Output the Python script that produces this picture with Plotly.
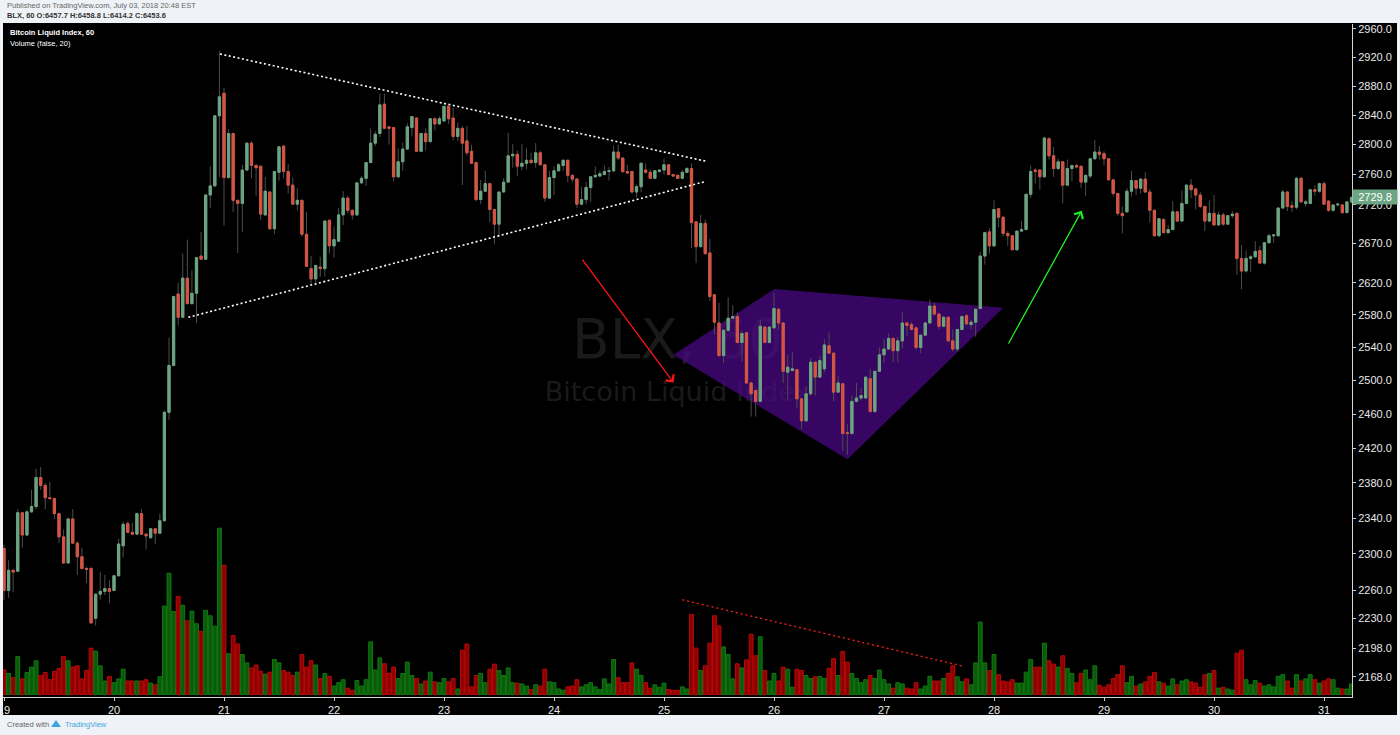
import math
import pandas as pd
import plotly.graph_objects as go

# ---------------- data (BLX, 60-minute candles, from 2018-07-19 00:00) ----------------
START = "2018-07-19 00:00"

opens = [
    2306, 2260, 2282, 2281, 2346, 2321, 2347, 2353, 2386, 2377,
    2363, 2362, 2345, 2319, 2290, 2339, 2312, 2297, 2284, 2284,
    2230, 2256, 2259, 2262, 2260, 2276, 2309, 2334, 2324, 2322,
    2345, 2322, 2318, 2328, 2323, 2337, 2462, 2518, 2606, 2577,
    2626, 2594, 2607, 2654, 2650, 2733, 2745, 2839, 2870, 2756,
    2815, 2726, 2722, 2766, 2802, 2772, 2771, 2707, 2737, 2689,
    2763, 2798, 2764, 2746, 2721, 2726, 2682, 2638, 2625, 2640,
    2638, 2700, 2667, 2673, 2707, 2729, 2713, 2707, 2749, 2755,
    2776, 2802, 2815, 2855, 2824, 2823, 2757, 2777, 2794, 2823,
    2836, 2791, 2815, 2804, 2835, 2828, 2832, 2852, 2836, 2811,
    2822, 2805, 2791, 2776, 2727, 2738, 2748, 2714, 2695, 2737,
    2750, 2785, 2787, 2771, 2775, 2779, 2776, 2789, 2773, 2729,
    2756, 2765, 2772, 2779, 2759, 2754, 2721, 2727, 2743, 2757,
    2758, 2760, 2764, 2765, 2790, 2782, 2764, 2764, 2737, 2744,
    2766, 2763, 2755, 2764, 2766, 2773, 2760, 2759, 2755, 2763,
    2768, 2698, 2666, 2696, 2658, 2605, 2570, 2530, 2561, 2576,
    2578, 2546, 2558, 2497, 2488, 2475, 2565, 2546, 2564, 2587,
    2570, 2510, 2512, 2513, 2478, 2452, 2484, 2522, 2504, 2514,
    2542, 2533, 2486, 2496, 2438, 2437, 2475, 2479, 2479, 2502,
    2463, 2511, 2531, 2538, 2551, 2536, 2548, 2570, 2568, 2564,
    2540, 2555, 2570, 2591, 2581, 2566, 2577, 2548, 2538, 2562,
    2579, 2568, 2571, 2588, 2654, 2685, 2667, 2715, 2704, 2683,
    2680, 2662, 2686, 2688, 2734, 2766, 2766, 2757, 2808, 2785,
    2768, 2777, 2746, 2768, 2772, 2771, 2750, 2758, 2781, 2790,
    2788, 2781, 2753, 2735, 2709, 2711, 2738, 2752, 2742, 2754,
    2737, 2713, 2680, 2701, 2684, 2688, 2711, 2699, 2722, 2746,
    2741, 2733, 2718, 2699, 2709, 2694, 2707, 2695, 2706, 2709,
    2651, 2635, 2651, 2653, 2661, 2645, 2671, 2680, 2680, 2716,
    2737, 2719, 2717, 2755, 2722, 2722, 2740, 2738, 2748, 2725,
    2713, 2720, 2720, 2710, 2724,
]

highs = [
    2310, 2293, 2283, 2350, 2347, 2349, 2372, 2396, 2398, 2380,
    2381, 2363, 2346, 2327, 2340, 2350, 2314, 2307, 2286, 2286,
    2256, 2280, 2277, 2271, 2277, 2317, 2336, 2336, 2335, 2346,
    2350, 2323, 2329, 2329, 2345, 2464, 2552, 2603, 2620, 2657,
    2675, 2636, 2653, 2685, 2734, 2771, 2840, 2929, 2877, 2821,
    2816, 2727, 2773, 2802, 2804, 2774, 2772, 2757, 2738, 2764,
    2798, 2799, 2774, 2756, 2742, 2727, 2711, 2654, 2643, 2653,
    2700, 2701, 2692, 2716, 2738, 2732, 2714, 2750, 2758, 2776,
    2822, 2818, 2869, 2869, 2825, 2824, 2795, 2803, 2829, 2838,
    2837, 2816, 2822, 2836, 2837, 2838, 2852, 2853, 2850, 2830,
    2825, 2825, 2800, 2777, 2753, 2765, 2749, 2715, 2737, 2755,
    2816, 2801, 2792, 2801, 2795, 2789, 2802, 2792, 2774, 2765,
    2771, 2775, 2780, 2780, 2760, 2755, 2744, 2750, 2758, 2771,
    2765, 2772, 2770, 2799, 2800, 2783, 2773, 2765, 2747, 2776,
    2775, 2767, 2766, 2767, 2781, 2774, 2761, 2760, 2766, 2770,
    2775, 2699, 2707, 2701, 2676, 2606, 2595, 2562, 2602, 2592,
    2583, 2561, 2559, 2498, 2489, 2574, 2566, 2565, 2608, 2588,
    2571, 2531, 2534, 2514, 2479, 2492, 2527, 2523, 2530, 2550,
    2558, 2534, 2506, 2497, 2448, 2482, 2497, 2491, 2504, 2514,
    2511, 2540, 2550, 2557, 2552, 2553, 2583, 2571, 2571, 2565,
    2555, 2571, 2599, 2595, 2582, 2579, 2578, 2562, 2562, 2579,
    2581, 2574, 2588, 2659, 2684, 2690, 2726, 2716, 2705, 2686,
    2681, 2686, 2699, 2734, 2772, 2768, 2767, 2810, 2810, 2797,
    2781, 2778, 2780, 2773, 2774, 2772, 2759, 2781, 2806, 2798,
    2791, 2782, 2754, 2736, 2718, 2742, 2765, 2753, 2755, 2763,
    2741, 2714, 2703, 2703, 2694, 2725, 2712, 2739, 2747, 2754,
    2742, 2737, 2719, 2726, 2733, 2711, 2710, 2707, 2712, 2710,
    2668, 2661, 2655, 2673, 2667, 2672, 2683, 2682, 2716, 2740,
    2738, 2725, 2757, 2757, 2727, 2741, 2746, 2749, 2751, 2726,
    2721, 2723, 2721, 2725, 2731,
]

lows = [
    2250, 2252, 2258, 2280, 2307, 2320, 2346, 2350, 2372, 2350,
    2361, 2339, 2312, 2289, 2289, 2311, 2277, 2283, 2268, 2225,
    2222, 2250, 2255, 2246, 2259, 2275, 2296, 2323, 2321, 2321,
    2321, 2305, 2317, 2311, 2322, 2336, 2453, 2517, 2567, 2576,
    2593, 2593, 2570, 2649, 2649, 2716, 2744, 2757, 2693, 2755,
    2711, 2658, 2685, 2765, 2755, 2732, 2700, 2706, 2688, 2682,
    2752, 2755, 2735, 2720, 2713, 2679, 2640, 2619, 2617, 2628,
    2628, 2657, 2652, 2672, 2694, 2709, 2701, 2706, 2748, 2745,
    2775, 2798, 2810, 2821, 2800, 2751, 2756, 2765, 2793, 2811,
    2790, 2790, 2792, 2803, 2819, 2827, 2831, 2828, 2806, 2805,
    2746, 2785, 2774, 2725, 2721, 2737, 2698, 2669, 2679, 2736,
    2749, 2769, 2758, 2766, 2767, 2774, 2769, 2772, 2724, 2728,
    2733, 2764, 2765, 2750, 2750, 2716, 2720, 2721, 2724, 2756,
    2757, 2759, 2752, 2763, 2779, 2762, 2761, 2735, 2730, 2737,
    2761, 2754, 2754, 2763, 2760, 2759, 2757, 2754, 2754, 2762,
    2664, 2645, 2665, 2656, 2597, 2556, 2529, 2521, 2559, 2575,
    2545, 2523, 2496, 2457, 2457, 2474, 2545, 2545, 2563, 2562,
    2497, 2477, 2511, 2467, 2442, 2451, 2482, 2482, 2503, 2510,
    2532, 2475, 2485, 2417, 2412, 2436, 2474, 2476, 2478, 2462,
    2461, 2510, 2521, 2537, 2522, 2522, 2539, 2554, 2561, 2537,
    2533, 2554, 2569, 2579, 2562, 2565, 2547, 2535, 2535, 2561,
    2567, 2562, 2553, 2587, 2643, 2657, 2666, 2691, 2679, 2667,
    2662, 2661, 2685, 2687, 2729, 2748, 2740, 2756, 2780, 2757,
    2766, 2722, 2745, 2751, 2768, 2742, 2732, 2755, 2780, 2780,
    2772, 2753, 2731, 2706, 2683, 2710, 2731, 2733, 2735, 2736,
    2697, 2679, 2679, 2683, 2683, 2687, 2698, 2698, 2721, 2729,
    2714, 2716, 2686, 2698, 2693, 2693, 2693, 2694, 2703, 2630,
    2612, 2633, 2634, 2652, 2644, 2643, 2670, 2671, 2679, 2715,
    2712, 2711, 2714, 2723, 2718, 2721, 2732, 2736, 2720, 2711,
    2711, 2718, 2708, 2709, 2722,
]

closes = [
    2260, 2282, 2280, 2346, 2321, 2347, 2353, 2386, 2377, 2363,
    2362, 2345, 2319, 2290, 2339, 2312, 2297, 2284, 2283, 2225,
    2256, 2259, 2262, 2259, 2276, 2311, 2333, 2324, 2322, 2345,
    2322, 2320, 2328, 2323, 2337, 2462, 2518, 2603, 2577, 2626,
    2594, 2607, 2652, 2650, 2733, 2745, 2839, 2865, 2756, 2815,
    2726, 2722, 2766, 2802, 2772, 2769, 2708, 2738, 2689, 2764,
    2797, 2764, 2746, 2721, 2726, 2682, 2641, 2625, 2642, 2638,
    2699, 2667, 2675, 2707, 2729, 2713, 2707, 2749, 2755, 2776,
    2802, 2814, 2854, 2822, 2822, 2757, 2777, 2794, 2824, 2838,
    2791, 2815, 2804, 2835, 2828, 2835, 2852, 2835, 2811, 2822,
    2802, 2789, 2775, 2727, 2738, 2748, 2714, 2695, 2737, 2750,
    2785, 2787, 2771, 2775, 2779, 2776, 2789, 2773, 2729, 2756,
    2765, 2773, 2779, 2759, 2754, 2721, 2727, 2743, 2757, 2759,
    2761, 2764, 2765, 2790, 2782, 2764, 2762, 2737, 2744, 2775,
    2763, 2755, 2765, 2766, 2773, 2760, 2758, 2755, 2763, 2768,
    2697, 2666, 2696, 2657, 2603, 2571, 2530, 2561, 2576, 2578,
    2546, 2557, 2497, 2484, 2475, 2566, 2546, 2565, 2588, 2570,
    2511, 2516, 2514, 2478, 2452, 2484, 2522, 2504, 2524, 2543,
    2533, 2486, 2497, 2437, 2437, 2475, 2479, 2482, 2504, 2463,
    2511, 2531, 2538, 2551, 2536, 2548, 2570, 2567, 2562, 2540,
    2555, 2570, 2591, 2581, 2566, 2577, 2548, 2538, 2562, 2578,
    2569, 2571, 2587, 2654, 2684, 2667, 2714, 2704, 2683, 2680,
    2662, 2686, 2688, 2734, 2764, 2764, 2757, 2809, 2785, 2768,
    2777, 2746, 2768, 2772, 2770, 2750, 2759, 2781, 2790, 2787,
    2781, 2753, 2735, 2709, 2706, 2738, 2752, 2742, 2754, 2737,
    2713, 2680, 2702, 2684, 2688, 2711, 2699, 2722, 2746, 2740,
    2733, 2718, 2699, 2709, 2694, 2707, 2695, 2706, 2708, 2651,
    2635, 2651, 2653, 2660, 2645, 2671, 2680, 2681, 2716, 2737,
    2718, 2717, 2755, 2724, 2724, 2740, 2738, 2748, 2721, 2713,
    2720, 2721, 2710, 2724, 2729.8,
]

volumes = [
    58, 50, 40, 90, 37, 52, 65, 80, 45, 52,
    35, 55, 62, 90, 80, 65, 68, 37, 57, 110,
    103, 68, 32, 43, 28, 37, 60, 32, 32, 32,
    32, 35, 27, 23, 42, 210, 288, 197, 233, 212,
    175, 198, 168, 150, 200, 187, 162, 395, 307, 97,
    140, 120, 95, 75, 63, 70, 55, 48, 53, 83,
    75, 57, 53, 45, 53, 95, 65, 80, 70, 38,
    50, 43, 20, 28, 35, 15, 10, 33, 20, 35,
    125, 58, 87, 73, 50, 65, 38, 50, 77, 45,
    38, 25, 32, 53, 30, 28, 38, 30, 38, 13,
    105, 120, 18, 45, 50, 28, 60, 72, 57, 45,
    63, 28, 27, 25, 20, 12, 23, 20, 60, 30,
    28, 13, 10, 18, 20, 35, 18, 23, 28, 18,
    12, 37, 25, 83, 40, 28, 28, 75, 60, 45,
    28, 15, 23, 17, 27, 12, 10, 10, 18, 13,
    190, 110, 57, 68, 122, 187, 163, 113, 95, 37,
    73, 63, 82, 143, 92, 137, 57, 32, 50, 32,
    65, 60, 17, 60, 57, 45, 38, 42, 43, 38,
    62, 85, 45, 102, 77, 50, 38, 28, 35, 45,
    38, 58, 35, 25, 15, 28, 25, 15, 13, 28,
    13, 20, 43, 32, 32, 38, 50, 68, 42, 30,
    37, 23, 75, 172, 75, 57, 95, 47, 32, 30,
    35, 27, 27, 53, 83, 65, 65, 122, 80, 72,
    65, 92, 62, 50, 28, 50, 58, 35, 68, 22,
    17, 23, 38, 47, 68, 28, 43, 20, 25, 30,
    43, 52, 30, 27, 20, 37, 23, 32, 35, 30,
    27, 17, 47, 50, 57, 15, 17, 13, 10, 98,
    105, 35, 23, 33, 27, 20, 23, 18, 43, 47,
    32, 15, 47, 32, 37, 47, 35, 27, 32, 37,
    35, 15, 13, 13, 25,
]

day_ticks = ["2018-07-%02d" % d for d in range(19, 32)]
day_labels = [str(d) for d in range(19, 32)]
price_ticks = [2168, 2198, 2230, 2260, 2300, 2340, 2380, 2420, 2460, 2500, 2540,
               2580, 2620, 2670, 2720, 2760, 2800, 2840, 2880, 2920, 2960]
LAST_PRICE = 2729.8

# drawings (time, price) anchors
UPPER_LINE_T = ["2018-07-20 23:07", "2018-07-25 09:06"]
UPPER_LINE_P = [2924.7, 2777.8]
LOWER_LINE_T = ["2018-07-20 16:13", "2018-07-25 08:47"]
LOWER_LINE_P = [2577.0, 2750.4]
RED_ARROW = (("2018-07-24 05:57", 2651.3), ("2018-07-25 02:05", 2497.4))
GREEN_ARROW = (("2018-07-28 02:59", 2543.0), ("2018-07-28 19:08", 2712.3))
POLY_T = ["2018-07-25 02:05", "2018-07-26 00:03", "2018-07-28 02:01", "2018-07-26 16:02", "2018-07-25 02:05"]
POLY_P = [2531.0, 2612.3, 2589.0, 2407.0, 2531.0]
VOL_TREND_T = ["2018-07-25 03:59", "2018-07-27 16:57"]
VOL_TREND_V = [225, 68]
WM_T = "2018-07-25 02:57"
WM_P1, WM_P2 = 2543.4, 2483.0

# ---------------- figure ----------------
UP, DOWN, WICK = "#6ba583", "#d75442", "#4d4d4d"
VOL_UP, VOL_UP_LINE = "#0b5a0b", "#107a10"
VOL_DN, VOL_DN_LINE = "#8e0000", "#b80a0a"

times = pd.date_range(START, periods=len(closes), freq="h")
is_up = [c >= o for o, c in zip(opens, closes)]
body_hi = [max(o, c) for o, c in zip(opens, closes)]
body_lo = [min(o, c) for o, c in zip(opens, closes)]

fig = go.Figure()

# watermark (main price axis)
fig.add_trace(go.Scatter(x=[WM_T], y=[WM_P1], mode="text", text=["BLX, 60"],
                         textfont=dict(family="DejaVu Sans", size=55, color="#1a1a1a"),
                         hoverinfo="skip", showlegend=False, yaxis="y"))
fig.add_trace(go.Scatter(x=[WM_T], y=[WM_P2], mode="text", text=["Bitcoin Liquid Index"],
                         textfont=dict(family="DejaVu Sans", size=27, color="#1a1a1a"),
                         hoverinfo="skip", showlegend=False, yaxis="y"))
# purple pattern polygon
fig.add_trace(go.Scatter(x=POLY_T, y=POLY_P, mode="lines", fill="toself",
                         fillcolor="rgba(76,8,136,0.72)", line=dict(width=0),
                         hoverinfo="skip", showlegend=False, yaxis="y"))

# volume
fig.add_trace(go.Bar(x=times, y=volumes, width=3600000 * 0.84,
                     marker=dict(color=[VOL_UP if u else VOL_DN for u in is_up],
                                 line=dict(color=[VOL_UP_LINE if u else VOL_DN_LINE for u in is_up], width=1)),
                     hoverinfo="skip", showlegend=False, yaxis="y2"))
fig.add_trace(go.Scatter(x=VOL_TREND_T, y=VOL_TREND_V, mode="lines",
                         line=dict(color="#ff1f1f", width=1.3, dash="2px,3px"),
                         hoverinfo="skip", showlegend=False, yaxis="y2"))

# candles: wicks then bodies
fig.add_trace(go.Candlestick(x=times, open=opens, high=highs, low=lows, close=closes,
                             increasing=dict(line=dict(color=WICK, width=1), fillcolor=WICK),
                             decreasing=dict(line=dict(color=WICK, width=1), fillcolor=WICK),
                             whiskerwidth=0, hoverinfo="skip", showlegend=False, yaxis="y3"))
fig.add_trace(go.Candlestick(x=times, open=opens, high=body_hi, low=body_lo, close=closes,
                             increasing=dict(line=dict(color=UP, width=1), fillcolor=UP),
                             decreasing=dict(line=dict(color=DOWN, width=1), fillcolor=DOWN),
                             whiskerwidth=0, showlegend=False, yaxis="y3"))

# triangle trendlines
for tx, py in ((UPPER_LINE_T, UPPER_LINE_P), (LOWER_LINE_T, LOWER_LINE_P)):
    fig.add_trace(go.Scatter(x=tx, y=py, mode="lines",
                             line=dict(color="#ffffff", width=1.6, dash="2px,2.5px"),
                             hoverinfo="skip", showlegend=False, yaxis="y3"))

# ---------------- layout ----------------
L, R, T, B = 3, 48, 24, 38
W, H = 1400, 735
PW, PH = W - L - R, H - T - B


def px_x(px):
    return (px - L) / PW


def px_y(py):
    return (H - B - py) / PH


yrange = [math.log10(2147.2), math.log10(2967.1)]
axis_font = dict(family="Liberation Sans, Arial, sans-serif", size=11, color="#e8e8e8")
small_font = "Liberation Sans, Arial, sans-serif"

annotations = []
for (tail, head), col in ((RED_ARROW, "#ff1414"), (GREEN_ARROW, "#1fef1f")):
    annotations.append(dict(x=head[0], y=math.log10(head[1]), ax=tail[0], ay=math.log10(tail[1]),
                            xref="x", yref="y", axref="x", ayref="y", showarrow=True,
                            arrowhead=4, arrowsize=1.5, arrowwidth=1.3, arrowcolor=col, text=""))

annotations += [
    dict(xref="paper", yref="y", x=1.0, y=math.log10(LAST_PRICE), xanchor="left", yanchor="middle",
         text="%.1f" % LAST_PRICE, showarrow=False, bgcolor=UP, borderpad=1, width=42,
         font=dict(family=small_font, size=11, color="#ffffff")),
    dict(xref="paper", yref="paper", x=px_x(5), y=px_y(5), xanchor="left", yanchor="middle",
         text="Published on TradingView.com, July 03, 2018 20:48 EST", showarrow=False,
         font=dict(family=small_font, size=7.5, color="#666666")),
    dict(xref="paper", yref="paper", x=px_x(5), y=px_y(15), xanchor="left", yanchor="middle",
         text="<b>BLX, 60 O:6457.7 H:6458.8 L:6414.2 C:6453.6</b>", showarrow=False,
         font=dict(family=small_font, size=7.5, color="#333333")),
    dict(xref="paper", yref="paper", x=px_x(8), y=px_y(33), xanchor="left", yanchor="middle",
         text="<b>Bitcoin Liquid Index, 60</b>", showarrow=False,
         font=dict(family=small_font, size=7.5, color="#ffffff")),
    dict(xref="paper", yref="paper", x=px_x(8), y=px_y(43), xanchor="left", yanchor="middle",
         text="Volume (false, 20)", showarrow=False,
         font=dict(family=small_font, size=7.5, color="#ffffff")),
    dict(xref="paper", yref="paper", x=px_x(5), y=px_y(724), xanchor="left", yanchor="middle",
         text="Created with", showarrow=False,
         font=dict(family=small_font, size=7.5, color="#666666")),
    dict(xref="paper", yref="paper", x=px_x(63), y=px_y(724), xanchor="left", yanchor="middle",
         text="TradingView", showarrow=False,
         font=dict(family=small_font, size=7.5, color="#3aa6df")),
]

shapes = [
    dict(type="rect", xref="paper", yref="paper", x0=0, x1=px_x(1397), y0=px_y(715), y1=px_y(23),
         fillcolor="#000000", line=dict(width=0), layer="below"),
    dict(type="path", xref="paper", yref="paper",
         path="M %f %f L %f %f L %f %f Z" % (px_x(51), px_y(727), px_x(56), px_y(720), px_x(61), px_y(727)),
         fillcolor="#3aa6df", line=dict(width=0)),
]

fig.update_layout(
    width=W, height=H, autosize=False,
    margin=dict(l=L, r=R, t=T, b=B, pad=0, autoexpand=False),
    paper_bgcolor="#eff2f6", plot_bgcolor="#000000",
    showlegend=False, hovermode=False,
    xaxis=dict(type="date", range=["2018-07-18 23:46:55", "2018-07-31 06:06:33"],
               tickmode="array", tickvals=day_ticks, ticktext=day_labels,
               ticks="outside", ticklen=3, tickcolor="#cccccc", tickfont=axis_font,
               ticklabeloverflow="allow", automargin=False,
               showline=True, linecolor="#d6d6d6", linewidth=1, mirror=False,
               showgrid=False, zeroline=False, rangeslider=dict(visible=False), fixedrange=True),
    yaxis=dict(type="log", range=yrange, side="right", automargin=False,
               tickmode="array", tickvals=price_ticks, ticktext=["%.1f" % v for v in price_ticks],
               ticks="outside", ticklen=3, tickcolor="#cccccc", tickfont=axis_font,
               showline=True, linecolor="#d6d6d6", linewidth=1,
               showgrid=False, zeroline=False, fixedrange=True),
    yaxis2=dict(overlaying="y", range=[-6, 1593], visible=False, fixedrange=True),
    yaxis3=dict(overlaying="y", type="log", range=yrange, visible=False, fixedrange=True),
    annotations=annotations,
    shapes=shapes,
)

fig.write_html("out.html", config={"displayModeBar": False},
               post_script="document.body.style.margin='0';document.body.style.overflow='hidden';")
